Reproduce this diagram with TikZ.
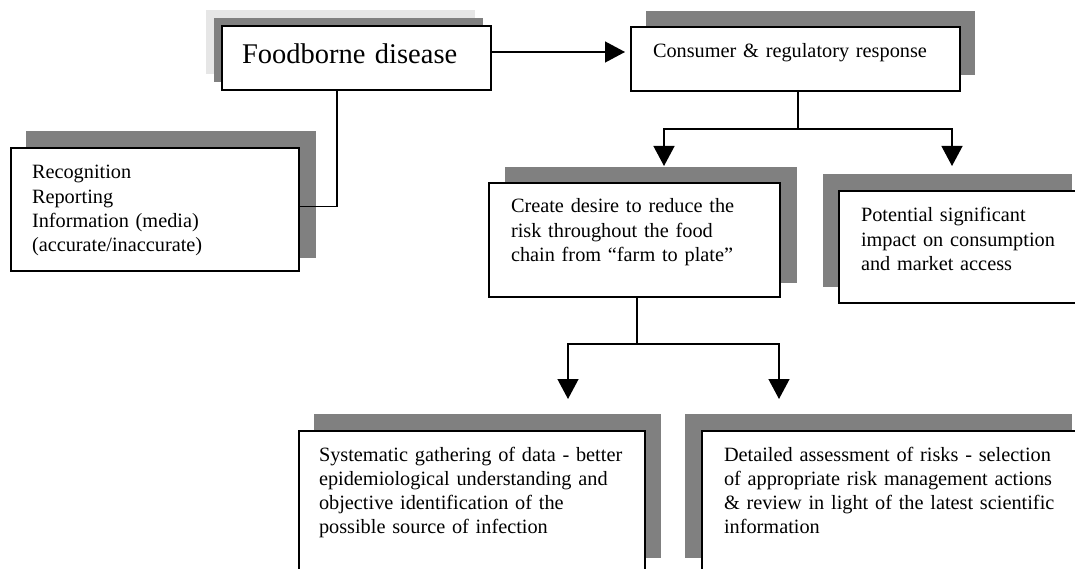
\documentclass[tikz,border=0pt]{standalone}
\usepackage{fontspec}
\setmainfont{Liberation Serif}
\usetikzlibrary{arrows.meta}
\definecolor{shadowgray}{HTML}{808080}
\definecolor{palegray}{HTML}{E6E6E6}
\tikzset{
  box/.style={draw=black, fill=white, line width=1.6pt, inner sep=0pt, outer sep=0pt, anchor=north west},
  txt/.style={anchor=base west, inner sep=0pt, outer sep=0pt, text width=420pt, align=left,
              font=\fontsize{20.3}{24.3}\selectfont},
  conn/.style={draw=black, line width=1.3pt},
  tip/.style={conn, -{Triangle[length=20pt,width=21pt]}},
}
\begin{document}
\begin{tikzpicture}[x=1pt,y=-1pt]
\useasboundingbox (0,0) rectangle (1075,569);
\clip (0,0) rectangle (1075,569);

% drop shadows behind the boxes
\fill[palegray]   (206,10) rectangle (475,74);
\fill[shadowgray] (214,18) rectangle (483,82);
\fill[shadowgray] (646,11) rectangle (975,75);
\fill[shadowgray] (26,131) rectangle (316,258);
\fill[shadowgray] (505,167) rectangle (797,283);
\fill[shadowgray] (823,174) rectangle (1072,287);
\fill[shadowgray] (314,414) rectangle (661,558);
\fill[shadowgray] (685,414) rectangle (1072,558);

% boxes
\node[box, minimum width=269pt, minimum height=64pt] (fd) at (222,26) {};
\node[box, minimum width=329pt, minimum height=64pt] (cr) at (631,27) {};
\node[box, minimum width=288pt, minimum height=123pt] (rec) at (11,148) {};
\node[box, minimum width=291pt, minimum height=114pt] (cd) at (489,183) {};
\node[box, minimum width=251pt, minimum height=112pt] (pt) at (839,191) {};
\node[box, minimum width=346pt, minimum height=150pt] (sy) at (299,431) {};
\node[box, minimum width=388pt, minimum height=150pt] (dt) at (702,431) {};

% labels
\node[txt, font=\fontsize{28.5}{34}\selectfont] (fdt) at (242,64) {Foodborne disease};
\node[txt] (crt) at (653,58) {Consumer \& regulatory response};
\node[txt] (rect) at (32,179) {Recognition\\Reporting\\Information (media)\\(accurate/inaccurate)};
\node[txt] (cdt) at (511,213) {Create desire to reduce the\\risk throughout the food\\chain from “farm to plate”};
\node[txt] (ptt) at (861,222) {Potential significant\\impact on consumption\\and market access};
\node[txt] (syt) at (319,461) {Systematic gathering of data - better\\epidemiological understanding and\\objective identification of the\\possible source of infection};
\node[txt] (dtt) at (724,461) {Detailed assessment of risks - selection\\of appropriate risk management actions\\\& review in light of the latest scientific\\information};

% branch points and arrow ends
\coordinate (j1) at (798,129);
\coordinate (e1) at (664,166);
\coordinate (e2) at (952,166);
\coordinate (j2) at (637,344);
\coordinate (e3) at (568,399);
\coordinate (e4) at (779,399);

% connectors
\draw[tip, shorten >=6pt] ([yshift=6pt]fd.east) -- ([yshift=7pt]cr.west);
\draw[conn] ([xshift=115pt]fd.south west) |- ([yshift=3pt]rec.east);
\draw[conn] (cr.south -| j1) -- (j1);
\draw[tip] (j1) -| (e1);
\draw[tip] (j1) -| (e2);
\draw[conn] (cd.south -| j2) -- (j2);
\draw[tip] (j2) -| (e3);
\draw[tip] (j2) -| (e4);
\end{tikzpicture}
\end{document}
